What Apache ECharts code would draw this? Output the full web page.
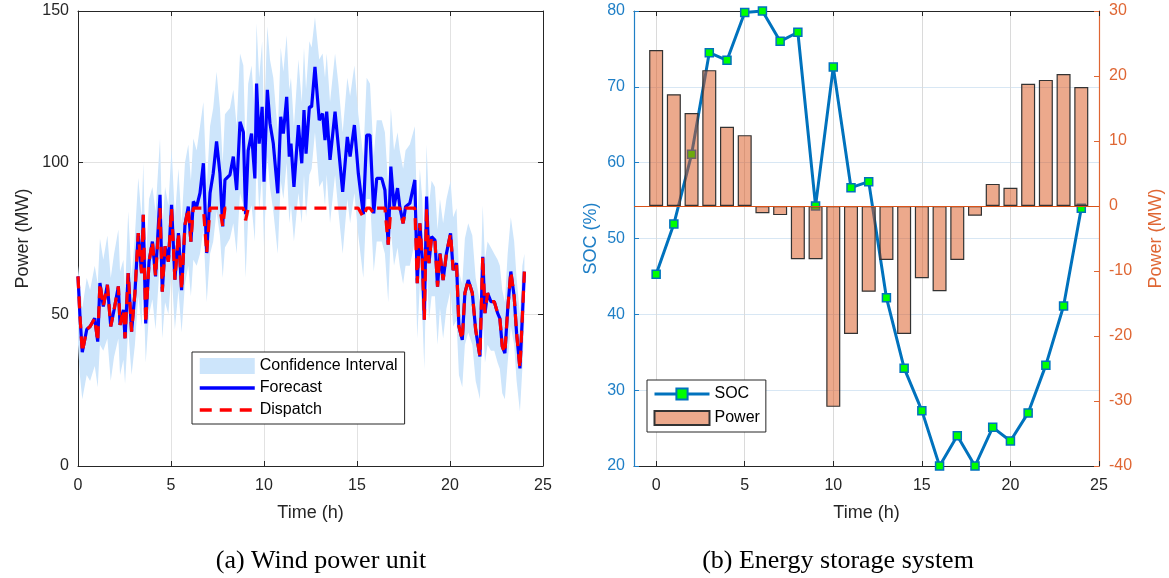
<!DOCTYPE html>
<html>
<head>
<meta charset="utf-8">
<script src="https://cdn.jsdelivr.net/npm/echarts@6/dist/echarts.min.js"></script>
<style>
  html, body { margin: 0; background: #fff; }
  #main { width: 1169px; height: 578px; }
</style>
</head>
<body>
<div id="main"></div>
<script>
// (a) wind power unit (time in h, power in MW)
const times = [
  0, 0.1, 0.23, 0.47, 0.65, 0.9, 1.06, 1.18, 1.36, 1.58, 1.76, 1.94,
  2.17, 2.26, 2.44, 2.53, 2.7, 2.88, 3.06, 3.24, 3.42, 3.51, 3.64, 3.82,
  4.0, 4.17, 4.41, 4.53, 4.68, 4.86, 5.03, 5.21, 5.4, 5.57, 5.75, 5.93,
  6.07, 6.2, 6.38, 6.56, 6.74, 6.92, 7.1, 7.27, 7.45, 7.63, 7.78, 7.9,
  8.17, 8.35, 8.53, 8.71, 8.89, 9.01, 9.15, 9.33, 9.51, 9.6, 9.74, 9.9,
  10.0, 10.18, 10.32, 10.5, 10.74, 10.9, 11.04, 11.22, 11.36, 11.45, 11.61, 11.85,
  12.03, 12.15, 12.26, 12.44, 12.56, 12.74, 12.97, 13.15, 13.28, 13.37, 13.55, 13.82,
  14.0, 14.23, 14.48, 14.63, 14.86, 15.07, 15.34, 15.52, 15.7, 15.9, 16.06, 16.33,
  16.5, 16.68, 16.82, 16.99, 17.18, 17.3, 17.48, 17.61, 17.84, 18.11, 18.24, 18.38,
  18.51, 18.62, 18.74, 18.87, 19.01, 19.19, 19.33, 19.46, 19.63, 19.81, 20.03, 20.17,
  20.35, 20.48, 20.66, 20.8, 20.98, 21.2, 21.38, 21.61, 21.76, 21.88, 22.02, 22.2,
  22.38, 22.56, 22.68, 22.81, 22.95, 23.1, 23.27, 23.45, 23.58, 23.76, 23.89, 24.0
]
const forecast = [
  62.5, 50, 37.5, 45, 46, 48.7, 41, 60.3, 52.6, 59.7, 46, 51.5,
  59.2, 46.5, 51.5, 42.1, 63.6, 44.3, 57, 76.8, 63.6, 82.8, 47, 67.4,
  74, 62.5, 89.4, 57.5, 72.4, 67.4, 86.1, 61.4, 76.8, 58, 79.5, 85.5,
  74, 87.2, 85.5, 90, 99.8, 70.2, 90, 96.5, 107, 96.5, 79, 94.3,
  96, 102, 91, 113.5, 110, 83, 104, 109.6, 94.8, 126.1, 106.3, 118.4,
  93.7, 124, 113, 106.3, 89.9, 115.1, 109.6, 121.7, 102, 106.3, 92, 112.4,
  99.8, 117.3, 103, 118.4, 118.4, 131.6, 114, 116.2, 107.4, 116.8, 100.9, 116.8,
  105.2, 90.4, 108.5, 102, 112.4, 96.5, 83, 109.1, 109.1, 83.3, 94.8, 94.8,
  91, 73, 98.7, 85.5, 91.6, 85.5, 80, 85.5, 86.6, 94.3, 60.3, 80,
  68, 48.2, 88.8, 66.9, 75.6, 74.5, 59.1, 70.1, 61.3, 70.1, 76.7, 64.6,
  66.9, 46, 41.6, 57, 61.3, 57, 44.9, 36.1, 69, 50.4, 57, 54.2,
  54.2, 50.4, 48.7, 39.4, 37.2, 51.5, 64.1, 55.9, 43.8, 32.2, 49.3, 64.1
]
const dispatch = [
  62.5, 50, 37.5, 45, 46, 48.7, 41, 60.3, 52.6, 59.7, 46, 51.5,
  59.2, 46.5, 51.5, 42.1, 63.6, 44.3, 57, 76.8, 63.6, 82.8, 47, 67.4,
  74, 62.5, 85, 57.5, 72.4, 67.4, 85, 61.4, 76.8, 58, 79.5, 85,
  74, 85, 85, 85, 85, 70.2, 85, 85, 85, 85, 79, 85,
  85, 85, 85, 85, 85, 81, 85, 85, 85, 85, 85, 85,
  85, 85, 85, 85, 85, 85, 85, 85, 85, 85, 85, 85,
  85, 85, 85, 85, 85, 85, 85, 85, 85, 85, 85, 85,
  85, 85, 85, 85, 85, 85, 82, 85, 85, 83.3, 85, 85,
  85, 73, 85, 85, 85, 85, 80, 85, 85, 85, 60.3, 80,
  68, 48.2, 85, 66.9, 75.6, 74.5, 59.1, 70.1, 61.3, 70.1, 76.7, 64.6,
  66.9, 46, 41.6, 57, 61.3, 57, 44.9, 36.1, 69, 50.4, 57, 54.2,
  54.2, 50.4, 48.7, 39.4, 37.2, 51.5, 64.1, 55.9, 43.8, 32.2, 49.3, 64.1
]
const ciUpper = [
  66, 60, 52, 62, 58, 66, 60, 75, 68, 76, 62, 70,
  78, 64, 68, 58, 84, 62, 76, 95, 82, 100, 66, 88,
  92, 84, 108, 78, 92, 86, 105, 82, 98, 80, 100, 106,
  94, 108, 104, 112, 120, 92, 112, 118, 130, 118, 100, 116,
  118, 124, 112, 136, 132, 104, 126, 132, 116, 146, 128, 140,
  114, 145, 134, 128, 110, 138, 130, 142, 124, 128, 112, 134,
  120, 138, 124, 140, 138, 148, 134, 136, 128, 136, 120, 136,
  126, 110, 128, 122, 132, 116, 102, 128, 126, 102, 114, 114,
  110, 92, 118, 104, 110, 104, 98, 104, 106, 112, 80, 98,
  88, 68, 106, 86, 94, 92, 78, 88, 80, 88, 94, 82,
  85, 64, 60, 75, 80, 76, 62, 54, 86, 68, 74, 72,
  70, 68, 66, 58, 54, 70, 82, 74, 62, 50, 66, 70
]
const ciLower = [
  40, 30, 22, 30, 28, 33, 26, 40, 38, 42, 28, 36,
  42, 30, 35, 27, 45, 30, 40, 56, 46, 62, 34, 50,
  55, 45, 68, 42, 54, 50, 64, 45, 58, 44, 60, 66,
  56, 68, 66, 70, 78, 54, 70, 74, 84, 76, 62, 72,
  75, 80, 70, 90, 86, 62, 82, 86, 74, 104, 84, 96,
  72, 102, 92, 84, 70, 94, 88, 100, 80, 86, 74, 90,
  80, 96, 82, 96, 98, 110, 92, 94, 86, 96, 80, 96,
  84, 70, 88, 80, 90, 76, 62, 88, 88, 64, 74, 74,
  70, 54, 78, 66, 72, 66, 60, 66, 66, 74, 42, 60,
  50, 32, 68, 48, 56, 56, 40, 52, 42, 52, 58, 46,
  48, 30, 26, 40, 44, 40, 28, 22, 50, 34, 40, 38,
  38, 34, 32, 24, 22, 34, 46, 40, 28, 18, 32, 48
]

// (b) energy storage system
const hours = [0, 1, 2, 3, 4, 5, 6, 7, 8, 9, 10, 11, 12, 13, 14, 15, 16, 17, 18, 19, 20, 21, 22, 23, 24]
const soc = [45.3, 51.9, 61.1, 74.5, 73.5, 79.8, 80, 76, 77.2, 54.3, 72.6, 56.7, 57.5,
  42.2, 32.9, 27.3, 20, 24, 20, 25.1, 23.3, 27, 33.3, 41.1, 54]
const power = [24, 17.2, 14.3, 20.9, 12.2, 10.9, -1.1, -1.4, -8.2, -8.2, -30.9, -19.7, -13.2,
  -8.3, -19.7, -11.1, -13.1, -8.3, -1.5, 3.4, 2.8, 18.8, 19.4, 20.3, 18.3]
const timeTicks = [0, 5, 10, 15, 20, 25]

const FONT = '"Liberation Sans", Arial, sans-serif'
const DARK = '#262626'
const BLUE = '#0072BD'
const BLUE_TXT = '#1f7fc6'
const ORANGE = '#D95319'
const ORANGE_TXT = '#df6633'

function boxAxis(extra) {
  return Object.assign({
    type: 'value',
    axisLine: { show: true, onZero: false, lineStyle: { color: DARK, width: 1 } },
    axisTick: { show: true, inside: true, length: 5, lineStyle: { color: DARK } },
    axisLabel: { show: false },
    splitLine: { show: false }
  }, extra)
}

const chart = echarts.init(document.getElementById('main'))

const option = {
  animation: false,
  backgroundColor: '#fff',
  textStyle: { fontFamily: FONT },
  grid: [
    { left: 78, top: 11, width: 465, height: 455, outerBoundsMode: 'none' },
    { left: 634, top: 11, width: 465, height: 455, outerBoundsMode: 'none' }
  ],
  legend: [
    {
      orient: 'vertical', left: 192, top: 352,
      itemWidth: 55, itemHeight: 16, itemGap: 6, padding: [6, 7, 6, 6],
      backgroundColor: '#fff', borderColor: DARK, borderWidth: 1,
      textStyle: { fontSize: 16, color: '#000', fontFamily: FONT },
      lineStyle: { width: 3.5 },
      selectedMode: false,
      data: [
        { name: 'Confidence Interval', icon: 'rect' },
        { name: 'Forecast', itemStyle: { opacity: 0 } },
        { name: 'Dispatch', itemStyle: { opacity: 0 } }
      ]
    },
    {
      orient: 'vertical', left: 647, top: 380,
      itemWidth: 55, itemHeight: 14, itemGap: 8, padding: [6, 6, 6, 6],
      backgroundColor: '#fff', borderColor: DARK, borderWidth: 1,
      textStyle: { fontSize: 16, color: '#000', fontFamily: FONT },
      lineStyle: { width: 3 },
      selectedMode: false,
      data: ['SOC', { name: 'Power', icon: 'rect' }]
    }
  ],
  xAxis: [
    {
      gridIndex: 0, type: 'value', min: 0, max: 25, interval: 5, position: 'bottom',
      name: 'Time (h)', nameLocation: 'middle', nameGap: 38,
      nameTextStyle: { fontSize: 18, color: DARK, fontFamily: FONT },
      axisLine: { show: true, onZero: false, lineStyle: { color: DARK } },
      axisTick: { inside: true, length: 5, lineStyle: { color: DARK } },
      axisLabel: { fontSize: 16, color: DARK, margin: 12, fontFamily: FONT },
      splitLine: { show: true, lineStyle: { color: '#e2e2e2' } }
    },
    boxAxis({ gridIndex: 0, min: 0, max: 25, interval: 5, position: 'top' }),
    {
      gridIndex: 1, type: 'value', min: -1.25, max: 25, position: 'bottom',
      name: 'Time (h)', nameLocation: 'middle', nameGap: 38,
      nameTextStyle: { fontSize: 18, color: DARK, fontFamily: FONT },
      axisLine: { show: true, onZero: false, lineStyle: { color: DARK } },
      axisTick: { inside: true, length: 5, lineStyle: { color: DARK }, customValues: timeTicks },
      axisLabel: { fontSize: 16, color: DARK, margin: 12, fontFamily: FONT, customValues: timeTicks },
      splitLine: { show: true, lineStyle: { color: '#dadada' } }
    },
    boxAxis({
      gridIndex: 1, min: -1.25, max: 25, position: 'top',
      axisTick: { show: true, inside: true, length: 5, lineStyle: { color: DARK }, customValues: timeTicks }
    })
  ],
  yAxis: [
    {
      gridIndex: 0, type: 'value', min: 0, max: 150, interval: 50, position: 'left',
      name: 'Power (MW)', nameLocation: 'middle', nameGap: 46,
      nameTextStyle: { fontSize: 18, color: DARK, fontFamily: FONT },
      axisLine: { show: true, onZero: false, lineStyle: { color: DARK } },
      axisTick: { show: true, inside: true, length: 5, lineStyle: { color: DARK } },
      axisLabel: { fontSize: 16, color: DARK, margin: 9, fontFamily: FONT, showMaxLabel: true },
      splitLine: { show: true, lineStyle: { color: '#e2e2e2' } }
    },
    boxAxis({ gridIndex: 0, min: 0, max: 150, interval: 50, position: 'right' }),
    {
      gridIndex: 1, type: 'value', min: 20, max: 80, interval: 10, position: 'left',
      name: 'SOC (%)', nameLocation: 'middle', nameGap: 34,
      nameTextStyle: { fontSize: 18, color: BLUE_TXT, fontFamily: FONT },
      axisLine: { show: true, onZero: false, lineStyle: { color: BLUE_TXT, width: 1.2 } },
      axisTick: { show: true, inside: true, length: 5, lineStyle: { color: BLUE_TXT } },
      axisLabel: { fontSize: 16, color: BLUE_TXT, margin: 9, fontFamily: FONT, showMaxLabel: true },
      splitLine: { show: true, lineStyle: { color: '#d8e7f4' } }
    },
    {
      gridIndex: 1, type: 'value', min: -40, max: 30, interval: 10, position: 'right',
      name: 'Power (MW)', nameLocation: 'middle', nameGap: 48, nameRotate: 90,
      nameTextStyle: { fontSize: 18, color: ORANGE_TXT, fontFamily: FONT },
      axisLine: { show: true, onZero: false, lineStyle: { color: ORANGE_TXT, width: 1.2 } },
      axisTick: { show: true, inside: true, length: 5, lineStyle: { color: ORANGE_TXT } },
      axisLabel: { fontSize: 16, color: ORANGE_TXT, margin: 10, fontFamily: FONT, showMaxLabel: true },
      splitLine: { show: false }
    }
  ],
  series: [
    {
      name: 'Confidence Interval',
      type: 'custom',
      xAxisIndex: 0, yAxisIndex: 0,
      itemStyle: { color: '#cde5fb' },
      data: times.map((t, i) => [t, ciUpper[i], ciLower[i]]),
      encode: { x: 0, y: [1, 2] },
      z: 1,
      renderItem: function (params, api) {
        if (params.dataIndex !== 0) return null
        const pts = []
        for (let i = 0; i < times.length; i++) pts.push(api.coord([times[i], ciUpper[i]]))
        for (let i = times.length - 1; i >= 0; i--) pts.push(api.coord([times[i], ciLower[i]]))
        return {
          type: 'polygon',
          shape: { points: pts },
          style: { fill: '#cde5fb' }
        }
      }
    },
    {
      name: 'Forecast',
      type: 'line',
      xAxisIndex: 0, yAxisIndex: 0,
      data: times.map((t, i) => [t, forecast[i]]),
      symbol: 'none',
      lineStyle: { color: '#0000ff', width: 3.2 },
      itemStyle: { color: '#0000ff' },
      z: 3
    },
    {
      name: 'Dispatch',
      type: 'line',
      xAxisIndex: 0, yAxisIndex: 0,
      data: times.map((t, i) => [t, dispatch[i]]),
      symbol: 'none',
      lineStyle: { color: '#ff0000', width: 3.2, type: [12, 8] },
      itemStyle: { color: '#ff0000' },
      z: 4
    },
    {
      name: 'SOC',
      type: 'line',
      xAxisIndex: 2, yAxisIndex: 2,
      data: hours.map((h, i) => [h, soc[i]]),
      symbol: 'rect',
      symbolSize: 8,
      lineStyle: { color: BLUE, width: 3 },
      itemStyle: { color: '#00ff00', borderColor: BLUE, borderWidth: 1.5 },
      z: 2
    },
    {
      name: 'Power',
      type: 'bar',
      xAxisIndex: 2, yAxisIndex: 3,
      data: hours.map((h, i) => [h, power[i]]),
      barWidth: 14,
      itemStyle: { color: 'rgba(217,83,25,0.5)', borderColor: '#333', borderWidth: 1.2 },
      z: 3,
      markLine: {
        silent: true,
        symbol: 'none',
        label: { show: false },
        lineStyle: { color: ORANGE, width: 1.2, type: 'solid', opacity: 1 },
        data: [{ yAxis: 0, lineStyle: { color: ORANGE } }]
      }
    }
  ],
  graphic: [
    {
      type: 'text', x: 321, y: 561,
      style: { text: '(a) Wind power unit', font: '26px "Liberation Serif", "Times New Roman", serif',
        fill: '#000', textAlign: 'center', textVerticalAlign: 'middle' }
    },
    {
      type: 'text', x: 838, y: 561,
      style: { text: '(b) Energy storage system', font: '26px "Liberation Serif", "Times New Roman", serif',
        fill: '#000', textAlign: 'center', textVerticalAlign: 'middle' }
    }
  ]
}

chart.setOption(option)
</script>
</body>
</html>
